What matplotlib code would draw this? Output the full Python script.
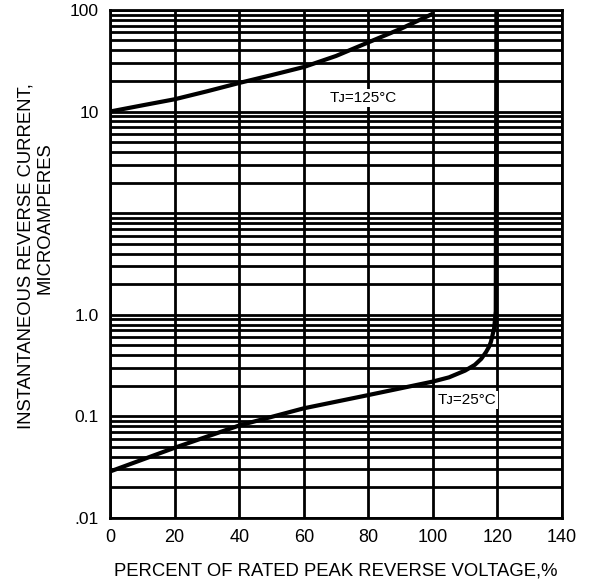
import matplotlib
matplotlib.use("Agg")
import matplotlib.pyplot as plt
from matplotlib.ticker import LogLocator, FixedLocator, NullFormatter

plt.rcParams["font.family"] = ["Liberation Sans", "DejaVu Sans"]

# percent of rated peak reverse voltage
x_125 = [0, 10, 20, 30, 40, 50, 60, 70, 80, 90, 100]
i_125 = [10.0, 11.5, 13.2, 15.8, 19.1, 22.8, 27.4, 35.2, 47.9, 65.0, 91.7]

x_25 = [0, 20, 40, 60, 80, 100, 105, 110, 113, 115, 116.5, 117.5, 118, 118.5,
        119, 119.5, 119.7]
i_25 = [2.87e-3, 4.91e-3, 8.13e-3, 1.20e-2, 1.62e-2, 2.20e-2, 2.42e-2, 2.82e-2,
        3.21e-2, 3.68e-2, 4.3e-2, 4.9e-2, 5.41e-2, 6.3e-2, 7.35e-2, 0.108, 100]

x_ticks = [0, 20, 40, 60, 80, 100, 120, 140]
y_ticks = [1e-3, 1e-2, 1e-1, 1, 10, 100]
y_ticklabels = [".01", "0.1", "1.0", "", "10", "100"]

fig = plt.figure(figsize=(5.89, 5.82), dpi=100)
ax = fig.add_axes([0.187, 0.110, 0.767, 0.873])

ax.set_yscale("log")
ax.set_xlim(0, 140)
ax.set_ylim(1e-3, 100)

ax.xaxis.set_major_locator(FixedLocator(x_ticks))
ax.yaxis.set_major_locator(FixedLocator(y_ticks))
ax.set_yticklabels(y_ticklabels)
ax.yaxis.set_minor_locator(LogLocator(base=10, subs=range(2, 10), numticks=20))
ax.yaxis.set_minor_formatter(NullFormatter())

ax.grid(True, which="major", axis="x", color="black", lw=2.0)
ax.grid(True, which="both", axis="y", color="black", lw=2.0)
ax.tick_params(which="both", length=0)
ax.tick_params(axis="x", labelsize=13, pad=8)
ax.tick_params(axis="y", labelsize=12.5, pad=8)
for s in ax.spines.values():
    s.set_linewidth(2.0)

ax.plot(x_125, i_125, color="black", lw=3.0, solid_capstyle="butt", zorder=3)
ax.plot(x_25, i_25, color="black", lw=3.0, solid_capstyle="butt",
        solid_joinstyle="round", zorder=3)

lbl = dict(fontsize=11, ha="center", va="center", zorder=4,
           family=["Liberation Sans", "DejaVu Sans"],
           bbox=dict(facecolor="white", edgecolor="none", pad=1.5))
ax.text(78.5, 13.5, "T\u1d0a=125°C", **lbl)
ax.text(110.5, 1.45e-2, "T\u1d0a=25°C", **lbl)

ax.set_xlabel("PERCENT OF RATED PEAK REVERSE VOLTAGE,%", fontsize=13.3, labelpad=12)
fig.text(26 / 589, 1 - 256 / 582, "INSTANTANEOUS REVERSE CURRENT,", rotation=90,
         fontsize=13.3, ha="center", va="center")
fig.text(45 / 589, 1 - 218 / 582, "MICROAMPERES", rotation=90,
         fontsize=13.3, ha="center", va="center")

fig.savefig("out.png", dpi=100)
